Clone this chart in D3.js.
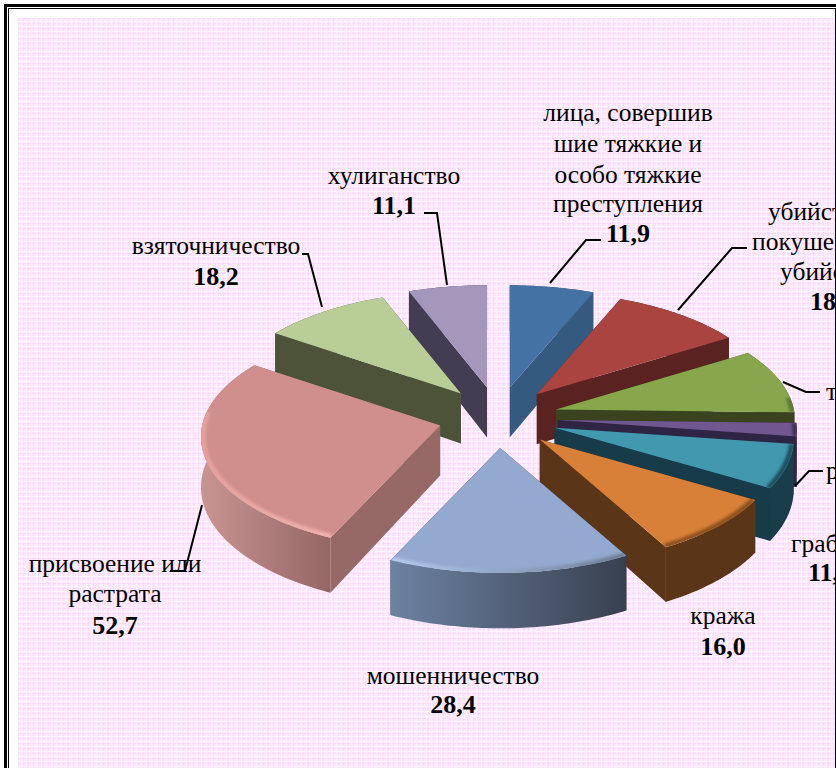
<!DOCTYPE html>
<html><head><meta charset="utf-8">
<script src="https://cdn.jsdelivr.net/npm/d3@7/dist/d3.min.js"></script>
<style>html,body{margin:0;padding:0;background:#fff;overflow:hidden}svg{display:block}</style>
</head><body><div id="c"></div>
<script>
const categories = ["лица, совершившие тяжкие и особо тяжкие преступления","убийство и покушение на убийство","терроризм","разбой","грабеж","кража","мошенничество","присвоение или растрата","взяточничество","хулиганство"];
const values = [11.9,18.8,17.6,3.6,11.9,16.0,28.4,52.7,18.2,11.1];
const valueLabels = ["11,9","18,8",null,null,"11,9","16,0","28,4","52,7","18,2","11,1"];
const topColors = ["#4472a5","#a94441","#88a64c","#70578f","#4198af","#d87f38","#93a9cf","#d08e8c","#b9cd96","#a597bb"];
const cutColors = ["#355a80","#5a2321","#3a431e","#2e2443","#173b48","#5a3517","#39424f","#966866","#4d5338","#423d52"];
const wallLeft = ["#355a80","#5a2321","#3f4a20","#3a2c55","#1a3d4b","#5a3517","#6d82a2","#c99593","#4d5338","#423d52"];
const wallRight = ["#355a80","#5a2321","#3f4a20","#3a2c55","#1a3d4b","#5a3517","#38404f","#946664","#4d5338","#423d52"];
const bevelStart = [null,null,"#5c7430","#3e2d58","#1c4a5a","#8a4f1f","#b4cef2","#e5a29e",null,null];
const bevelEnd = [null,null,"#5c7430","#3e2d58","#1c4a5a","#8a4f1f","#6d7a92","#f2b4b0",null,null];
const labelLines = [
 [["лица, совершив",628,121,"middle"],["шие тяжкие и",628,152,"middle"],["особо тяжкие",628,183,"middle"],["преступления",628,212,"middle"]],
 [["убийство и",768,220,"start"],["покушение на",752,250,"start"],["убийство",780,280,"start"]],
 [["терроризм",826,400,"start"]],
 [["разбой",826,479,"start"]],
 [["грабеж",791,552,"start"]],
 [["кража",723,624,"middle"]],
 [["мошенничество",453,684,"middle"]],
 [["присвоение или",115,572,"middle"],["растрата",115,602,"middle"]],
 [["взяточничество",216,254,"middle"]],
 [["хулиганство",394,184,"middle"]]
];
const valuePos = [[628,242,"middle"],[810,310,"start"],null,null,[808,581,"start"],[723,655,"middle"],[453,713,"middle"],[115,634,"middle"],[216,285,"middle"],[394,214,"middle"]];
const leaders = [
 [[550,283],[586,240],[601,240]],
 [[678,310],[732,248],[747,248]],
 [[783,382],[806,392],[820,392]],
 [[795,486],[809,471],[823,471]],
 null,null,null,
 [[202,505],[185,571],[170,571]],
 [[322,307],[308,254],[302,254]],
 [[447,285],[437,213],[424,213]]
];

const W=836,H=768,cx=498,cy=417.5,R=238,explodeX=60,explodeY=30.5,depth=50,k0=0.4725,D=2400;
const svg=d3.select("#c").append("svg").attr("width",W).attr("height",H);
const defs=svg.append("defs");
const pat=defs.append("pattern").attr("id","plaid").attr("width",5).attr("height",5).attr("patternUnits","userSpaceOnUse").attr("x",18).attr("y",18);
pat.append("rect").attr("width",5).attr("height",5).attr("fill","#feeafe");
pat.append("rect").attr("x",0).attr("width",1).attr("height",5).attr("fill","#fcdcfc");
pat.append("rect").attr("y",0).attr("width",5).attr("height",1).attr("fill","#fcdcfc");
pat.append("rect").attr("x",3).attr("width",1).attr("height",5).attr("fill","#fff1ff");
pat.append("rect").attr("y",3).attr("width",5).attr("height",1).attr("fill","#fff1ff");
defs.append("filter").attr("id","soft").attr("filterUnits","userSpaceOnUse").attr("x",0).attr("y",0).attr("width",W).attr("height",H).append("feGaussianBlur").attr("stdDeviation",1.5);

svg.append("rect").attr("x",18).attr("y",18).attr("width",W-18).attr("height",H-18).attr("fill","url(#plaid)");

const line=d3.line();
const pie=d3.pie().sort(null).startAngle(0).endAngle(2*Math.PI);
const arcs=pie(values).map((d,i)=>{
  const m=(d.startAngle+d.endAngle)/2;
  const ax=cx+explodeX*Math.sin(m), ay=cy-explodeY*Math.cos(m);
  const P=(a,r,y)=>{const x=r*Math.sin(a),z=r*Math.cos(a),s=1/(1+z/D);return [ax+x*s, ay-z*k0*s+y*s];};
  const step=Math.PI/180;
  const as=d3.range(d.startAngle,d.endAngle,step).concat([d.endAngle]);
  return {i,m,as,P,a0:d.startAngle,a1:d.endAngle,z:Math.cos(m)};
}).sort((a,b)=>b.z-a.z);

const chart=svg.append("g");
arcs.forEach(w=>{
  const {i,as,P,a0,a1}=w;
  const g=chart.append("g");
  const gid="wall"+i;
  const xs=as.map(a=>P(a,R,0)[0]);
  const x0=d3.min(xs),x1=d3.max(xs);
  const lg=defs.append("linearGradient").attr("id",gid).attr("gradientUnits","userSpaceOnUse")
    .attr("x1",x0).attr("x2",x1).attr("y1",0).attr("y2",0);
  lg.append("stop").attr("offset",0).attr("stop-color",wallLeft[i]);
  lg.append("stop").attr("offset",1).attr("stop-color",wallRight[i]);
  const wall=as.map(a=>P(a,R,0)).concat(as.slice().reverse().map(a=>P(a,R,depth)));
  const faces=[
    {z:Math.cos(w.m),pts:wall,fill:`url(#${gid})`},
    {z:Math.cos(a0),pts:[P(a0,0,0),P(a0,R,0),P(a0,R,depth),P(a0,0,depth)],fill:cutColors[i]},
    {z:Math.cos(a1),pts:[P(a1,0,0),P(a1,R,0),P(a1,R,depth),P(a1,0,depth)],fill:cutColors[i]}
  ].sort((a,b)=>b.z-a.z);
  faces.forEach(f=>g.append("path").attr("d",line(f.pts)+"Z").attr("fill",f.fill));
  const top=[P(a0,0,0)].concat(as.map(a=>P(a,R,0)));
  const topD=line(top)+"Z";
  g.append("path").attr("d",topD).attr("fill",topColors[i]);
  if(bevelStart[i]){
    const cid="clip"+i;
    defs.append("clipPath").attr("id",cid).append("path").attr("d",topD);
    const front=as.filter(a=>Math.cos(a)<0.12);
    if(front.length>1){
      const bid="bevel"+i;
      const bg=defs.append("linearGradient").attr("id",bid).attr("gradientUnits","userSpaceOnUse")
        .attr("x1",x0).attr("x2",x1).attr("y1",0).attr("y2",0);
      bg.append("stop").attr("offset",0).attr("stop-color",bevelStart[i]);
      bg.append("stop").attr("offset",1).attr("stop-color",bevelEnd[i]);
      g.append("g").attr("clip-path",`url(#${cid})`).append("path")
       .attr("d",line(front.map(a=>P(a,R-2,0)))).attr("fill","none")
       .attr("stroke",`url(#${bid})`).attr("stroke-width",5).attr("filter","url(#soft)");
    }
  }
});

const labels=svg.append("g").attr("font-family","'Liberation Serif','Times New Roman',serif").attr("fill","#000");
categories.forEach((c,i)=>{
  labelLines[i].forEach(l=>{
    labels.append("text").attr("x",l[1]).attr("y",l[2]).attr("text-anchor",l[3]).attr("font-size",25.5).text(l[0]);
  });
  if(valueLabels[i]&&valuePos[i]){
    labels.append("text").attr("x",valuePos[i][0]).attr("y",valuePos[i][1]).attr("text-anchor",valuePos[i][2])
      .attr("font-size",26).attr("font-weight","bold").text(valueLabels[i]);
  }
  if(leaders[i]) svg.append("path").attr("d",line(leaders[i])).attr("fill","none").attr("stroke","#000").attr("stroke-width",2);
});

const frame=svg.append("g");
frame.append("rect").attr("x",0).attr("y",0).attr("width",W).attr("height",18).attr("fill","#fff");
frame.append("rect").attr("x",0).attr("y",0).attr("width",18).attr("height",H).attr("fill","#fff");
frame.append("rect").attr("x",4).attr("y",4).attr("width",W-4).attr("height",3).attr("fill","#000");
frame.append("rect").attr("x",4).attr("y",4).attr("width",3).attr("height",H-4).attr("fill","#000");
frame.append("rect").attr("x",8).attr("y",8).attr("width",W-8).attr("height",1).attr("fill","#000");
frame.append("rect").attr("x",8).attr("y",8).attr("width",1).attr("height",H-8).attr("fill","#000");
frame.append("rect").attr("x",835).attr("y",8).attr("width",1).attr("height",H-8).attr("fill","#000");
</script></body></html>
